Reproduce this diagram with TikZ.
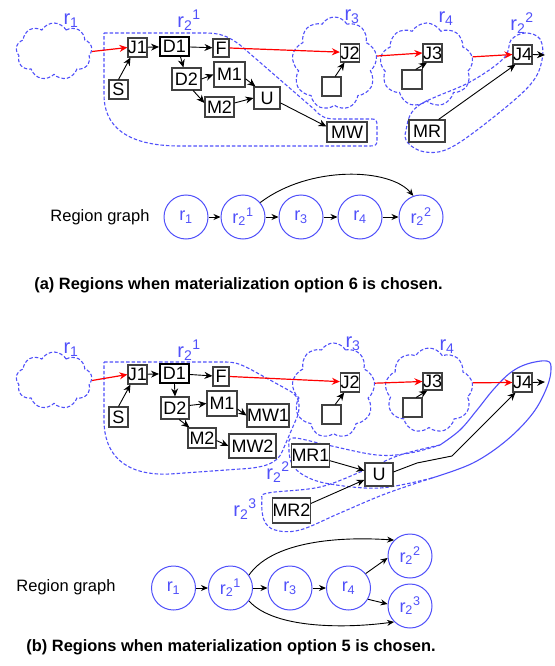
\documentclass[tikz,border=0pt]{standalone}
\usepackage{fontspec}
\setmainfont{Liberation Sans}
\usetikzlibrary{shapes.symbols,arrows.meta}
\definecolor{rblue}{RGB}{80,80,250}
\tikzset{
  bx/.style={draw=black!75, fill=white, line width=1.1pt, inner sep=0pt, font=\fontsize{18}{18}\selectfont, text height=12.9pt, text depth=0pt},
  thickbx/.style={bx, draw=black, line width=2pt},
  sz/.style 2 args={minimum width=#1pt, minimum height=#2pt},
  arr/.style={-{Stealth[length=8pt,width=7pt]}, line width=0.9pt, draw=black},
  rarr/.style={-{Stealth[length=8pt,width=7pt]}, line width=1.2pt, draw=red},
  reg/.style={draw=rblue, dash pattern=on 3.5pt off 2pt, line width=1.1pt},
  solreg/.style={draw=rblue, line width=1.1pt},
  cl/.style={cloud, cloud puffs=9, cloud puff arc=120, cloud ignores aspect, reg, inner sep=0pt},
  lab/.style={text=rblue, font=\fontsize{20}{20}\selectfont, inner sep=0pt},
  rc/.style={circle, draw=rblue, line width=1pt, minimum size=44pt, inner sep=0pt, text=rblue, font=\fontsize{18}{18}\selectfont},
  arrg/.style={-{Stealth[length=7pt,width=6pt]}, line width=0.9pt, draw=black},
  captext/.style={font=\bfseries\fontsize{16.4}{16.4}\selectfont, inner sep=0pt},
  rgtext/.style={font=\fontsize{16.5}{16.5}\selectfont, inner sep=0pt}
}
\begin{document}
\begin{tikzpicture}[x=1pt,y=-1pt]
\useasboundingbox (0,0) rectangle (554,666);

% ================= (a) =================
% regions
\draw[reg] (104,33) -- (205,33) .. controls (220,33) and (228,36) .. (240,45) -- (315,110) .. controls (320,116) and (325,119) .. (335,119) -- (372,119) .. controls (376,119) and (377,121) .. (377,125) -- (377,141) .. controls (377,145) and (375,146) .. (370,146) -- (180,146) .. controls (125,146) and (104,125) .. (104,95) -- cycle;
\draw[reg] plot[smooth cycle, tension=0.6] coordinates {(406,130) (418,106) (470,82) (504,58) (511,40) (525,33) (540,39) (542,60) (530,85) (490,120) (450,148) (425,152) (408,143)};
\node[cl, minimum width=76pt, minimum height=57pt] (C1a) at (54,51.5) {};
\node[cl, minimum width=85pt, minimum height=93pt] (C3a) at (334.5,63.5) {};
\node[cl, minimum width=93pt, minimum height=84pt] (C4a) at (426.5,65) {};

\node[lab] (L1a) at (71,21) {r\textsubscript{1}};
\node[lab] (L21a) at (189,20) {r\textsubscript{2}\textsuperscript{1}};
\node[lab] (L3a) at (352,17) {r\textsubscript{3}};
\node[lab] (L4a) at (446,19) {r\textsubscript{4}};
\node[lab] (L22a) at (522,23) {r\textsubscript{2}\textsuperscript{2}};

\node[bx, sz={19}{19}] (J1a) at (137.5,47.5) {J1};
\node[thickbx, sz={29}{19}] (D1a) at (174.5,46.5) {D1};
\node[bx, sz={16}{18}] (Fa) at (221,48) {F};
\node[bx, sz={19}{19}] (Sa) at (118.5,89.5) {S};
\node[bx, sz={29}{22}] (D2a) at (186.5,79) {D2};
\node[bx, sz={31}{25}] (M1a) at (229.5,74.5) {M1};
\node[bx, sz={29}{20}] (M2a) at (219.5,107) {M2};
\node[bx, sz={26}{22}] (Ua) at (267,98) {U};
\node[bx, sz={40}{20}] (MWa) at (347,132) {MW};
\node[bx, sz={18}{18}] (J2a) at (350,53) {J2};
\node[bx, sz={19}{19}] (E3a) at (331.5,86.5) {};
\node[bx, sz={19}{18}] (J3a) at (432.5,53) {J3};
\node[bx, sz={20}{19}] (E4a) at (412,79.5) {};
\node[bx, sz={19}{19}] (J4a) at (522.5,54.5) {J4};
\node[bx, sz={36}{22}] (MRa) at (427,131) {MR};
\coordinate (Oa) at (545,55);

\draw[rarr] (C1a.east) -- (J1a.west);
\draw[arr] (J1a) -- (D1a);
\draw[arr] (D1a) -- (Fa);
\draw[arr] (Sa.north) -- (J1a.235);
\draw[arr] (D1a.300) -- (D2a.105);
\draw[arr] (D2a.east) -- (M1a.west);
\draw[arr] (D2a.300) -- (M2a.165);
\draw[arr] (M1a.-15) -- (Ua.135);
\draw[arr] (M2a.15) -- (Ua.west);
\draw[arr] (Ua.-20) -- (MWa.165);
\draw[rarr] (Fa.east) -- (J2a.175);
\draw[arr] (E3a.70) -- (J2a.240);
\draw[rarr] (C3a.10) -- (J3a.west);
\draw[arr] (E4a.70) -- (J3a.240);
\draw[rarr] (C4a.10) -- (J4a.west);
\draw[arr] (MRa.45) -- (J4a.235);
\draw[arr] (J4a.east) -- (Oa);

% region graph (a)
\node[rgtext] (RGa) at (100,217) {Region graph};
\node[rc] (G1a) at (186,217) {r\textsubscript{1}};
\node[rc] (G21a) at (243,217) {r\textsubscript{2}\textsuperscript{1}};
\node[rc] (G3a) at (301,217) {r\textsubscript{3}};
\node[rc] (G4a) at (360,217) {r\textsubscript{4}};
\node[rc] (G22a) at (421,217) {r\textsubscript{2}\textsuperscript{2}};
\draw[arrg] (G1a) -- (G21a);
\draw[arrg] (G21a) -- (G3a);
\draw[arrg] (G3a) -- (G4a);
\draw[arrg] (G4a) -- (G22a);
\draw[arrg] (G21a.40) .. controls (310,165) and (390,168) .. (G22a.110);
\node[captext] (CapA) at (238.5,285) {(a) Regions when materialization option 6 is chosen.};

% ================= (b) =================
\draw[reg] (104,362) -- (225,362) .. controls (235,362) and (240,364) .. (250,369) -- (290,391) .. controls (300,397) and (300,405) .. (298,415) -- (282,452) .. controls (277,464) and (262,468) .. (240,469) -- (170,474) .. controls (125,476) and (104,455) .. (104,420) -- cycle;
% r2^2 and r2^3 (shared right part solid)
\draw[solreg] plot[smooth, tension=0.6] coordinates {(440,445) (460,430) (477,410) (493,390) (510,373) (527,364) (547,361) (551,369) (547,387) (533,413) (507,440) (473,463) (432,478)};
\draw[reg] plot[smooth, tension=0.6] coordinates {(432,478) (380,488) (330,484) (305,476) (292,464) (289,448) (293,438) (327,445) (377,455) (410,453) (440,445)};
\draw[reg] plot[smooth, tension=0.6] coordinates {(432,478) (385,494) (340,513) (300,530) (275,530) (264,520) (262,500) (268,493) (320,487) (365,470) (400,455) (440,445)};
\node[cl, minimum width=76pt, minimum height=57pt] (C1b) at (54,380.5) {};
\node[cl, minimum width=83pt, minimum height=95pt] (C3b) at (333.5,390.5) {};
\node[cl, minimum width=88pt, minimum height=85pt] (C4b) at (429,390.5) {};

\node[lab] (L1b) at (71,350) {r\textsubscript{1}};
\node[lab] (L21b) at (189,350) {r\textsubscript{2}\textsuperscript{1}};
\node[lab] (L3b) at (353,344) {r\textsubscript{3}};
\node[lab] (L4b) at (447,347) {r\textsubscript{4}};
\node[lab] (L22b) at (278,472) {r\textsubscript{2}\textsuperscript{2}};
\node[lab] (L23b) at (245,509) {r\textsubscript{2}\textsuperscript{3}};

\node[bx, sz={19}{19}] (J1b) at (137.5,374.5) {J1};
\node[thickbx, sz={29}{19}] (D1b) at (174.5,373.5) {D1};
\node[bx, sz={16}{19}] (Fb) at (221,376.5) {F};
\node[bx, sz={19}{20}] (Sb) at (118.5,417) {S};
\node[bx, sz={28}{22}] (D2b) at (175,408) {D2};
\node[bx, sz={30}{25}] (M1b) at (222,403.5) {M1};
\node[bx, sz={40}{23}] (MW1b) at (268,415.5) {MW1};
\node[bx, sz={28}{20}] (M2b) at (202,438) {M2};
\node[bx, sz={47}{24}] (MW2b) at (252.5,446) {MW2};
\node[bx, sz={18}{19}] (J2b) at (350,382.5) {J2};
\node[bx, sz={19}{19}] (E3b) at (331.5,414.5) {};
\node[bx, sz={19}{17}] (J3b) at (432.5,381.5) {J3};
\node[bx, sz={19}{19}] (E4b) at (412.5,407.5) {};
\node[bx, sz={19}{19}] (J4b) at (522.5,382.5) {J4};
\node[bx, sz={37}{23}] (MR1b) at (310.5,455.5) {MR1};
\node[bx, sz={28}{23}] (Ub) at (379,474.5) {U};
\node[bx, sz={37}{25}] (MR2b) at (291.5,510.5) {MR2};
\coordinate (Ob) at (545,382);
\coordinate (W1) at (417,463);
\coordinate (W2) at (452,456);

\draw[rarr] (C1b.east) -- (J1b.west);
\draw[arr] (J1b) -- (D1b);
\draw[arr] (D1b) -- (Fb);
\draw[arr] (Sb.north) -- (J1b.235);
\draw[arr] (D1b.south) -- (D2b.north);
\draw[arr] (D2b.10) -- (M1b.west);
\draw[arr] (D2b.290) -- (M2b.140);
\draw[arr] (M1b.-20) -- (MW1b.west);
\draw[arr] (M2b.-10) -- (MW2b.west);
\draw[rarr] (Fb.east) -- (J2b.175);
\draw[arr] (E3b.70) -- (J2b.240);
\draw[rarr] (C3b.10) -- (J3b.west);
\draw[arr] (E4b.70) -- (J3b.240);
\draw[rarr] (C4b.10) -- (J4b.west);
\draw[arr] (MR1b.-15) -- (Ub.165);
\draw[arr] (MR2b.20) -- (Ub.200);
\draw[arr] (Ub.10) -- (W1) -- (W2) -- (J4b.235);
\draw[arr] (J4b.east) -- (Ob);

% region graph (b)
\node[rgtext] (RGb) at (66,587) {Region graph};
\node[rc] (G1b) at (173.5,588) {r\textsubscript{1}};
\node[rc] (G21b) at (230.5,588) {r\textsubscript{2}\textsuperscript{1}};
\node[rc] (G3b) at (290,588) {r\textsubscript{3}};
\node[rc] (G4b) at (348.5,588) {r\textsubscript{4}};
\node[rc] (G22b) at (410,556) {r\textsubscript{2}\textsuperscript{2}};
\node[rc] (G23b) at (410,606) {r\textsubscript{2}\textsuperscript{3}};
\draw[arrg] (G1b) -- (G21b);
\draw[arrg] (G21b) -- (G3b);
\draw[arrg] (G3b) -- (G4b);
\draw[arrg] (G4b.40) -- (G22b.185);
\draw[arrg] (G4b.-30) -- (G23b.175);
\draw[arrg] (G21b.35) .. controls (275,538) and (350,537) .. (G22b.135);
\draw[arrg] (G21b.-35) .. controls (275,630) and (350,628) .. (G23b.225);
\node[captext] (CapB) at (231,647) {(b) Regions when materialization option 5 is chosen.};
\end{tikzpicture}
\end{document}
